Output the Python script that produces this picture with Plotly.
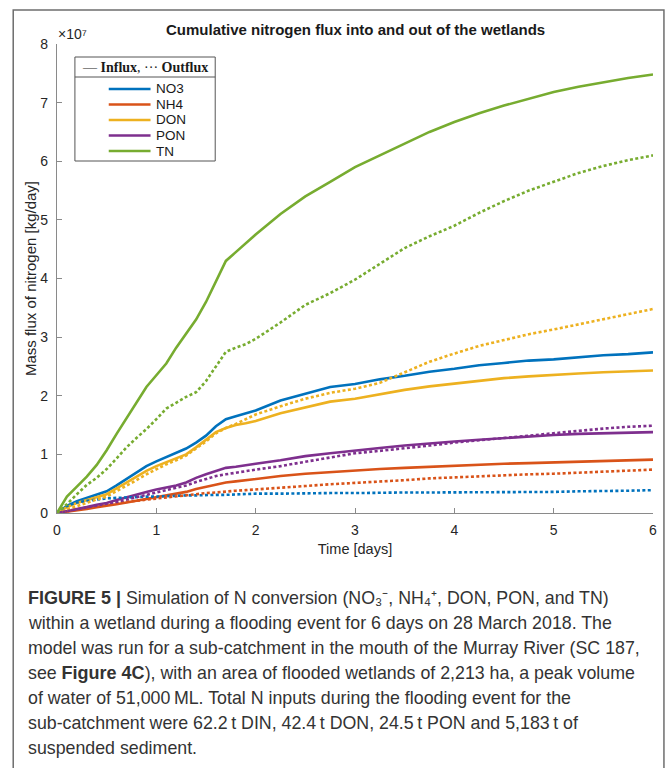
import plotly.graph_objects as go

# ---------------- data (values in units of 1e7 kg/day) ----------------
time_days = [0, 0.1, 0.2, 0.3, 0.4, 0.5, 0.6, 0.7, 0.8, 0.9, 1.0, 1.1, 1.2, 1.3, 1.4,
             1.5, 1.6, 1.7, 1.8, 1.9, 2.0, 2.25, 2.5, 2.75, 3.0, 3.25, 3.5, 3.75, 4.0,
             4.25, 4.5, 4.75, 5.0, 5.25, 5.5, 5.75, 6.0]

no3_in = [0, 0.12, 0.20, 0.26, 0.31, 0.37, 0.47, 0.58, 0.68, 0.80, 0.88, 0.95, 1.02, 1.10, 1.20,
          1.32, 1.48, 1.60, 1.65, 1.70, 1.75, 1.92, 2.03, 2.15, 2.20, 2.28, 2.34, 2.41, 2.46,
          2.52, 2.56, 2.60, 2.62, 2.66, 2.69, 2.71, 2.74]
no3_out = [0, 0.12, 0.18, 0.21, 0.23, 0.25, 0.26, 0.27, 0.27, 0.28, 0.28, 0.29, 0.29, 0.30, 0.30,
           0.31, 0.31, 0.31, 0.32, 0.32, 0.33, 0.33, 0.34, 0.34, 0.34, 0.35, 0.35, 0.35, 0.35,
           0.35, 0.36, 0.36, 0.36, 0.37, 0.37, 0.38, 0.39]
nh4_in = [0, 0.02, 0.05, 0.07, 0.10, 0.12, 0.15, 0.18, 0.21, 0.24, 0.27, 0.29, 0.32, 0.36, 0.41,
          0.45, 0.49, 0.52, 0.54, 0.56, 0.59, 0.63, 0.67, 0.70, 0.73, 0.75, 0.77, 0.79, 0.80,
          0.82, 0.84, 0.85, 0.86, 0.87, 0.88, 0.90, 0.91]
nh4_out = [0, 0.03, 0.06, 0.09, 0.12, 0.15, 0.17, 0.19, 0.21, 0.23, 0.25, 0.27, 0.29, 0.30, 0.32,
           0.34, 0.35, 0.37, 0.38, 0.39, 0.40, 0.43, 0.46, 0.49, 0.51, 0.54, 0.56, 0.59, 0.61,
           0.63, 0.65, 0.66, 0.67, 0.69, 0.71, 0.72, 0.74]
don_in = [0, 0.10, 0.17, 0.22, 0.27, 0.32, 0.42, 0.52, 0.62, 0.72, 0.80, 0.87, 0.93, 1.00, 1.12,
          1.25, 1.38, 1.45, 1.50, 1.53, 1.57, 1.70, 1.80, 1.90, 1.95, 2.03, 2.10, 2.16, 2.21,
          2.26, 2.30, 2.33, 2.36, 2.38, 2.40, 2.42, 2.43]
don_out = [0, 0.06, 0.12, 0.18, 0.23, 0.28, 0.37, 0.46, 0.56, 0.66, 0.75, 0.83, 0.90, 0.98, 1.10,
           1.22, 1.36, 1.45, 1.52, 1.60, 1.68, 1.82, 1.95, 2.05, 2.12, 2.22, 2.40, 2.58, 2.72,
           2.85, 2.95, 3.05, 3.13, 3.22, 3.30, 3.40, 3.48]
pon_in = [0, 0.03, 0.06, 0.10, 0.14, 0.17, 0.22, 0.27, 0.31, 0.36, 0.40, 0.43, 0.47, 0.52, 0.60,
          0.66, 0.72, 0.77, 0.79, 0.81, 0.84, 0.90, 0.97, 1.02, 1.07, 1.11, 1.15, 1.19, 1.22,
          1.25, 1.28, 1.31, 1.33, 1.35, 1.36, 1.37, 1.38]
pon_out = [0, 0.03, 0.06, 0.09, 0.12, 0.15, 0.19, 0.23, 0.27, 0.31, 0.35, 0.39, 0.43, 0.47, 0.53,
           0.58, 0.63, 0.66, 0.69, 0.71, 0.74, 0.80, 0.87, 0.95, 1.02, 1.06, 1.10, 1.15, 1.20,
           1.24, 1.29, 1.33, 1.37, 1.41, 1.44, 1.47, 1.49]
tn_in = [0, 0.28, 0.45, 0.62, 0.82, 1.07, 1.35, 1.62, 1.88, 2.15, 2.35, 2.55, 2.82, 3.05, 3.30,
         3.60, 3.95, 4.30, 4.45, 4.60, 4.75, 5.10, 5.40, 5.65, 5.90, 6.10, 6.30, 6.50, 6.67,
         6.82, 6.95, 7.07, 7.18, 7.27, 7.35, 7.42, 7.48]
tn_out = [0, 0.15, 0.32, 0.48, 0.60, 0.75, 0.93, 1.12, 1.28, 1.43, 1.60, 1.78, 1.88, 1.98, 2.06,
          2.25, 2.50, 2.75, 2.82, 2.88, 2.97, 3.25, 3.55, 3.75, 3.98, 4.25, 4.52, 4.72, 4.90,
          5.12, 5.32, 5.50, 5.65, 5.80, 5.92, 6.02, 6.10]

species = ["NO3", "NH4", "DON", "PON", "TN"]
influx = [no3_in, nh4_in, don_in, pon_in, tn_in]
outflux = [no3_out, nh4_out, don_out, pon_out, tn_out]
colors = ["#0072BD", "#D95319", "#EDB120", "#7E2F8E", "#77AC30"]

x_ticks = [0, 1, 2, 3, 4, 5, 6]
y_ticks = [0, 1, 2, 3, 4, 5, 6, 7, 8]

# ---------------- layout geometry (pixels) ----------------
W, H = 669, 768
ML, MR, MT, MB = 57, 13, 44, 255
PW = W - ML - MR
PH = H - MT - MB


def px(x):
    return (x - ML) / PW


def py(y):
    return (H - MB - y) / PH


fig = go.Figure()
for name, yin, col in zip(species, influx, colors):
    fig.add_trace(go.Scatter(x=time_days, y=yin, mode="lines", name=name + " influx",
                             line=dict(color=col, width=2.6), showlegend=False))
for name, yout, col in zip(species, outflux, colors):
    fig.add_trace(go.Scatter(x=time_days, y=yout, mode="lines", name=name + " outflux",
                             line=dict(color=col, width=2.6, dash="3px,2.4px"), showlegend=False))

axis_col = "#8a8a8a"
SANS = "Liberation Sans, Arial, sans-serif"
tick_font = dict(family=SANS, size=14, color="#262626")

fig.update_layout(
    width=W, height=H,
    margin=dict(l=ML, r=MR, t=MT, b=MB, pad=0),
    paper_bgcolor="white", plot_bgcolor="white",
    xaxis=dict(range=[0, 6], tickvals=x_ticks, ticktext=[str(v) for v in x_ticks],
               showline=True, linecolor=axis_col, linewidth=1.2, ticks="inside",
               ticklen=5, tickcolor=axis_col, showgrid=False, zeroline=False,
               tickfont=tick_font, ticklabelstandoff=4,
               title=dict(text="Time [days]", font=dict(family=SANS, size=14.5, color="#262626"),
                          standoff=6)),
    yaxis=dict(range=[0, 8], tickvals=y_ticks, ticktext=[str(v) for v in y_ticks],
               showline=True, linecolor=axis_col, linewidth=1.2, ticks="inside",
               ticklen=5, tickcolor=axis_col, showgrid=False, zeroline=False,
               tickfont=tick_font, ticklabelstandoff=5,
               title=dict(text="Mass flux of nitrogen [kg/day]",
                          font=dict(family=SANS, size=15, color="#262626"), standoff=0)),
    showlegend=False,
)

shapes = []
annotations = []

# outer frame
shapes.append(dict(type="rect", xref="paper", yref="paper", x0=px(13), x1=px(667),
                   y0=py(800), y1=py(10), line=dict(color="#6e6e6e", width=1.5),
                   fillcolor="rgba(0,0,0,0)", layer="below"))

# title
annotations.append(dict(text="Cumulative nitrogen flux into and out of the wetlands",
                        xref="paper", yref="paper", x=0.5, y=py(30), xanchor="center",
                        yanchor="middle", showarrow=False,
                        font=dict(family=SANS, size=15, color="#1a1a1a", weight="bold")))
# exponent
annotations.append(dict(text="×10\u2077", xref="paper", yref="paper", x=px(56),
                        y=py(34), xanchor="left", yanchor="middle", showarrow=False,
                        font=dict(family=SANS, size=14, color="#262626")))

# legend box
LX0, LX1, LY0, LY1 = 75, 216, 57, 161
shapes.append(dict(type="rect", xref="paper", yref="paper", x0=px(LX0), x1=px(LX1),
                   y0=py(LY1), y1=py(LY0), line=dict(color="#555555", width=1),
                   fillcolor="white", layer="above"))
shapes.append(dict(type="line", xref="paper", yref="paper", x0=px(LX0), x1=px(LX1),
                   y0=py(77), y1=py(77), line=dict(color="#555555", width=1), layer="above"))
SERIF = "Liberation Serif, DejaVu Serif, serif"
annotations.append(dict(text="— <span style='font-weight:bold;font-size:14px'>Influx</span>, ··· "
                             "<span style='font-weight:bold;font-size:14px'>Outflux</span>",
                        xref="paper", yref="paper",
                        x=px((LX0 + LX1) / 2), y=py(67), xanchor="center", yanchor="middle",
                        showarrow=False, font=dict(family=SERIF, size=14, color="#1a1a1a")))
item_y = [89, 104.5, 120, 135.5, 151]
for name, col, yy in zip(species, colors, item_y):
    shapes.append(dict(type="line", xref="paper", yref="paper", x0=px(109), x1=px(151),
                       y0=py(yy), y1=py(yy), line=dict(color=col, width=2.6), layer="above"))
    annotations.append(dict(text=name, xref="paper", yref="paper", x=px(154), y=py(yy),
                            xanchor="left", yanchor="middle", showarrow=False,
                            font=dict(family=SANS, size=13.5, color="#1a1a1a")))

# caption
B = "<span style='font-weight:bold;font-size:18px'>{}</span>"
caption_lines = [
    B.format("FIGURE 5 |") + " Simulation of N conversion (NO\u2083\u207b, NH\u2084\u207a, DON, PON, and TN)",
    "within a wetland during a flooding event for 6 days on 28 March 2018. The",
    "model was run for a sub-catchment in the mouth of the Murray River (SC 187,",
    "see " + B.format("Figure 4C") + "), with an area of flooded wetlands of 2,213 ha, a peak volume",
    "of water of 51,000\u2009ML. Total N inputs during the flooding event for the",
    "sub-catchment were 62.2\u2009t DIN, 42.4\u2009t DON, 24.5\u2009t PON and 5,183\u2009t of",
    "suspended sediment.",
]
for i, line in enumerate(caption_lines):
    annotations.append(dict(text=line, xref="paper", yref="paper", x=px(26), y=py(598 + 25 * i),
                            xanchor="left", yanchor="middle", showarrow=False, align="left",
                            font=dict(family=SANS, size=17.8, color="#333333")))

fig.update_layout(shapes=shapes, annotations=annotations)
fig.write_html("out.html", config={"displayModeBar": False},
               post_script="document.body.style.margin='0px';document.body.style.overflow='hidden';")
